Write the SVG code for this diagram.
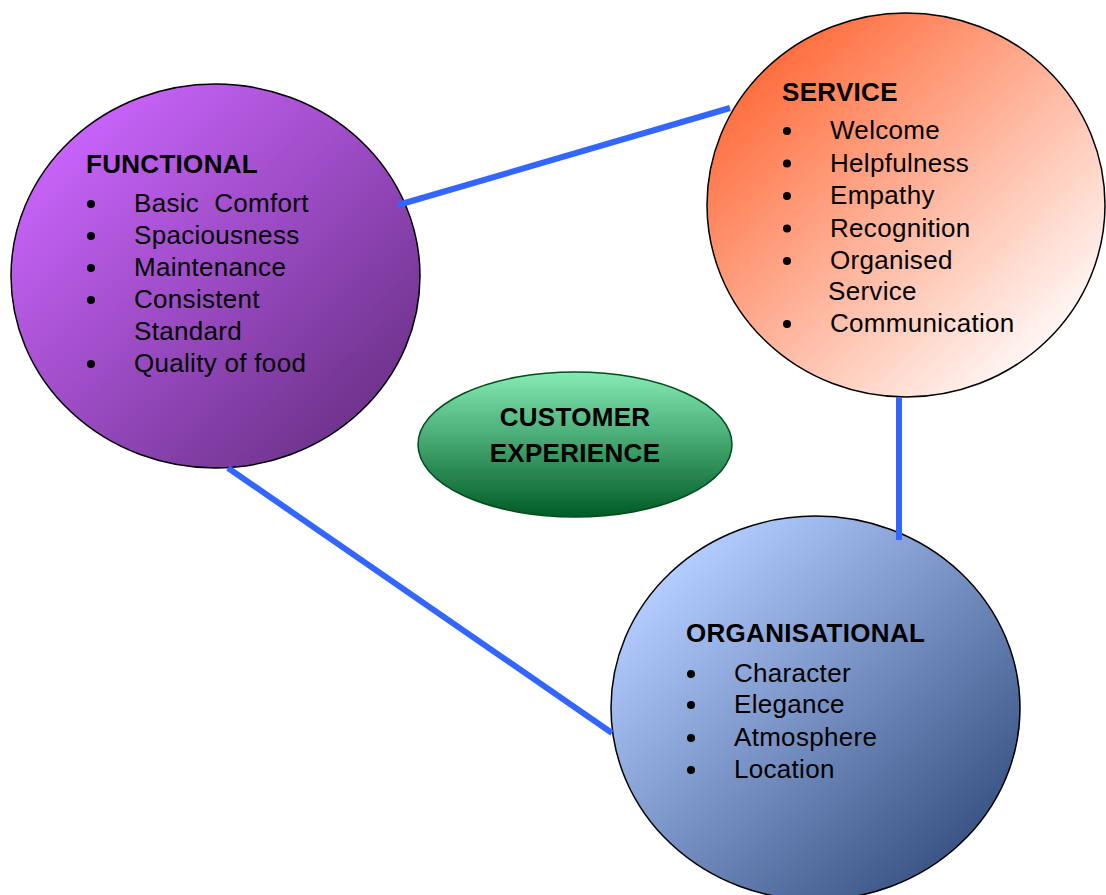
<svg xmlns="http://www.w3.org/2000/svg" width="1106" height="895" viewBox="0 0 1106 895">
<defs>
<linearGradient id="gF" x1="0" y1="0" x2="1" y2="1"><stop offset="0.1" stop-color="#CC66FF"/><stop offset="1" stop-color="#5E2A78"/></linearGradient>
<linearGradient id="gS" x1="0" y1="0" x2="1" y2="1"><stop offset="0.1" stop-color="#FF6633"/><stop offset="0.9" stop-color="#FFFFFF"/></linearGradient>
<linearGradient id="gO" x1="0" y1="0" x2="1" y2="1"><stop offset="0.15" stop-color="#B3CCFF"/><stop offset="0.95" stop-color="#2C4577"/></linearGradient>
<linearGradient id="gC" x1="0" y1="0" x2="0" y2="1"><stop offset="0" stop-color="#85EBB5"/><stop offset="1" stop-color="#005C26"/></linearGradient>
<style>
.c{stroke:#000;stroke-width:1.5}
.t{font-family:"Liberation Sans",Arial,sans-serif;font-size:26px;letter-spacing:0.3px;fill:#000;white-space:pre}
.b{font-weight:bold}
.conn{stroke:#3366FF;stroke-width:6;fill:none}
</style>
</defs>
<rect width="1106" height="895" fill="#fff"/>
<g id="functional">
<ellipse class="c" cx="215.5" cy="276" rx="204.5" ry="192" fill="url(#gF)"/>
<text class="t b" x="86" y="173">FUNCTIONAL</text>
<g fill="#000"><circle cx="91" cy="204" r="4"/><circle cx="91" cy="236" r="4"/><circle cx="91" cy="268" r="4"/><circle cx="91" cy="300" r="4"/><circle cx="91" cy="364" r="4"/></g>
<text class="t" x="134" y="212" xml:space="preserve">Basic  Comfort</text>
<text class="t" x="134" y="244">Spaciousness</text>
<text class="t" x="134" y="276">Maintenance</text>
<text class="t" x="134" y="308">Consistent</text>
<text class="t" x="134" y="340">Standard</text>
<text class="t" x="134" y="372">Quality of food</text>
</g>
<g id="service">
<ellipse class="c" cx="906" cy="205" rx="199" ry="192" fill="url(#gS)"/>
<text class="t b" x="782" y="101">SERVICE</text>
<g fill="#000"><circle cx="787" cy="131" r="4"/><circle cx="787" cy="163.5" r="4"/><circle cx="787" cy="196" r="4"/><circle cx="787" cy="228.5" r="4"/><circle cx="787" cy="261" r="4"/><circle cx="787" cy="324" r="4"/></g>
<text class="t" x="830" y="139">Welcome</text>
<text class="t" x="830" y="171.5">Helpfulness</text>
<text class="t" x="830" y="204">Empathy</text>
<text class="t" x="830" y="236.5">Recognition</text>
<text class="t" x="830" y="269">Organised</text>
<text class="t" x="828" y="300">Service</text>
<text class="t" x="830" y="332">Communication</text>
</g>
<g id="organisational">
<ellipse class="c" cx="815.5" cy="708" rx="204.5" ry="192" fill="url(#gO)"/>
<text class="t b" x="686" y="642">ORGANISATIONAL</text>
<g fill="#000"><circle cx="691" cy="674" r="4"/><circle cx="691" cy="705" r="4"/><circle cx="691" cy="738" r="4"/><circle cx="691" cy="770" r="4"/></g>
<text class="t" x="734" y="682">Character</text>
<text class="t" x="734" y="713">Elegance</text>
<text class="t" x="734" y="746">Atmosphere</text>
<text class="t" x="734" y="778">Location</text>
</g>
<g id="customer">
<ellipse cx="575" cy="444.5" rx="157" ry="72.5" fill="url(#gC)" stroke="#004D1A" stroke-width="1.5"/>
<text class="t b" x="575" y="426" text-anchor="middle">CUSTOMER</text>
<text class="t b" x="575" y="462" text-anchor="middle">EXPERIENCE</text>
</g>
<g id="connectors">
<line class="conn" x1="398" y1="205" x2="730" y2="108"/>
<line class="conn" x1="899" y1="397" x2="899" y2="540"/>
<line class="conn" x1="228" y1="468" x2="612" y2="733"/>
</g>
</svg>
